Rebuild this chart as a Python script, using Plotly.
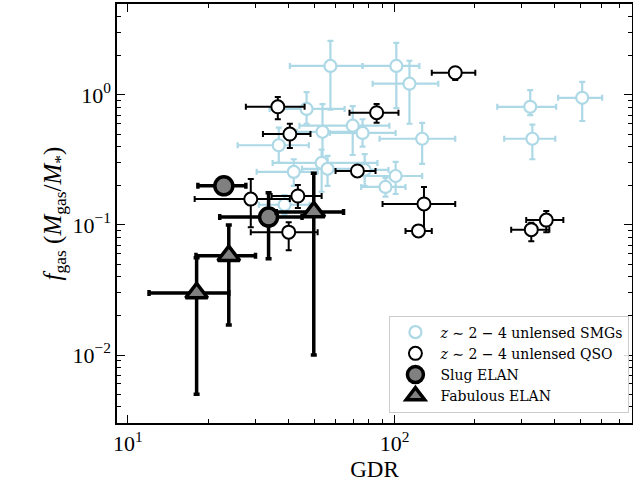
import numpy as np
import plotly.graph_objects as go

# --- SMGs (z~2-4 unlensed) ---
smg_x   = [57.5, 101.6, 113.8, 323, 506, 329, 127, 75.9, 69.7, 53.7, 46.8, 36.8, 53.3, 41.9, 56.1, 77.3, 101, 92.5, 38.7]
smg_xlo = [40.5, 75.9, 82.8, 243, 411, 258, 87.9, 57.2, 44.0, 43.0, 34.0, 25.8, 34.9, 30.4, 45.0, 55.0, 77.3, 75.0, 31.0]
smg_xhi = [75.9, 124, 146, 404, 601, 401, 169, 101, 95.7, 70.0, 65.0, 47.7, 86.3, 51.5, 75.0, 95.0, 127, 110, 48.0]
smg_y   = [1.67, 1.67, 1.22, 0.81, 0.95, 0.46, 0.46, 0.51, 0.58, 0.52, 0.78, 0.41, 0.30, 0.256, 0.27, 0.265, 0.238, 0.196, 0.143]
smg_ylo = [0.77, 0.79, 0.60, 0.70, 0.63, 0.32, 0.295, 0.40, 0.345, 0.30, 0.60, 0.30, 0.18, 0.20, 0.20, 0.20, 0.173, 0.165, 0.12]
smg_yhi = [2.60, 2.51, 1.83, 1.09, 1.26, 0.59, 0.61, 0.65, 0.82, 0.85, 1.05, 0.56, 0.38, 0.32, 0.34, 0.35, 0.305, 0.23, 0.17]

# --- QSOs (z~2-4 unlensed) ---
qso_x   = [36.5, 40.5, 85.7, 169, 72.6, 28.9, 43.4, 40.1, 129, 123, 371, 326]
qso_xlo = [27.7, 32.1, 67.8, 138, 60.1, 17.8, 34.6, 28.9, 90.2, 110, 312, 274]
qso_xhi = [46.0, 48.4, 103.5, 201, 84.9, 40.5, 53.3, 51.5, 169, 138, 430, 381]
qso_y   = [0.81, 0.50, 0.73, 1.48, 0.26, 0.158, 0.167, 0.088, 0.145, 0.090, 0.109, 0.092]
qso_ylo = [0.65, 0.39, 0.61, 1.30, 0.24, 0.096, 0.135, 0.064, 0.090, 0.082, 0.088, 0.075]
qso_yhi = [0.965, 0.60, 0.85, 1.64, 0.28, 0.226, 0.203, 0.105, 0.196, 0.099, 0.128, 0.104]

# --- Slug ELAN ---
slug_x   = [22.9, 33.7]
slug_xlo = [18.3, 22.1]
slug_xhi = [27.7, 45.0]
slug_y   = [0.20, 0.115]
slug_ylo = [0.19, 0.055]
slug_yhi = [0.21, 0.177]

# --- Fabulous ELAN ---
fab_x   = [18.1, 23.9, 49.8]
fab_xlo = [12.0, 18.0, 36.0]
fab_xhi = [23.9, 30.1, 64.4]
fab_y   = [0.030, 0.058, 0.126]
fab_ylo = [0.005, 0.017, 0.010]
fab_yhi = [0.056, 0.100, 0.250]

xticks = [10, 100]
xticktext = ["10<sup>1</sup>", "10<sup>2</sup>"]
yticks = [0.01, 0.1, 1]
yticktext = ["10<sup>−2</sup>", "10<sup>−1</sup>", "10<sup>0</sup>"]
xminor = [m * d for d in (1, 10, 100) for m in range(2, 10)]
yminor = [m * d for d in (0.001, 0.01, 0.1, 1) for m in range(2, 10)]

XR = [np.log10(9.1), np.log10(778)]
YR = [np.log10(0.003), np.log10(5.0)]

FONT = "Liberation Serif"
LFONT = "DejaVu Serif"


def errs(v, lo, hi):
    v, lo, hi = map(np.asarray, (v, lo, hi))
    return (hi - v).tolist(), (v - lo).tolist()


def add(name, x, xlo, xhi, y, ylo, yhi, color, fill, symbol, size, lw, ethick, ewidth):
    exp, exm = errs(x, xlo, xhi)
    eyp, eym = errs(y, ylo, yhi)
    fig.add_trace(go.Scatter(
        x=x, y=y, mode="markers", name=name,
        marker=dict(symbol=symbol, size=size, color=fill, line=dict(color=color, width=lw)),
        error_x=dict(type="data", symmetric=False, array=exp, arrayminus=exm,
                     color=color, thickness=ethick, width=ewidth),
        error_y=dict(type="data", symmetric=False, array=eyp, arrayminus=eym,
                     color=color, thickness=ethick, width=ewidth),
    ))


fig = go.Figure()
add("<i>z</i> ∼ 2 − 4 unlensed SMGs", smg_x, smg_xlo, smg_xhi, smg_y, smg_ylo, smg_yhi,
    "#add8e6", "white", "circle", 12, 2.2, 2.2, 3)
add("<i>z</i> ∼ 2 − 4 unlensed QSO", qso_x, qso_xlo, qso_xhi, qso_y, qso_ylo, qso_yhi,
    "black", "white", "circle", 13, 2, 2, 3)
add("Slug ELAN", slug_x, slug_xlo, slug_xhi, slug_y, slug_ylo, slug_yhi,
    "black", "#808080", "circle", 18, 3.5, 3.5, 3)
add("Fabulous ELAN", fab_x, fab_xlo, fab_xhi, fab_y, fab_ylo, fab_yhi,
    "black", "#808080", "triangle-up", 19, 3.5, 3.5, 3)

# invisible trace to carry the minor-tick overlay axes
fig.add_trace(go.Scatter(x=fab_x, y=fab_y, xaxis="x2", yaxis="y2", mode="markers",
                         marker=dict(opacity=0), showlegend=False, hoverinfo="skip"))

axis_common = dict(
    type="log", showgrid=False, zeroline=False, automargin=False,
    showline=True, linecolor="black", linewidth=1.5, mirror="allticks",
    ticks="inside", ticklen=8, tickwidth=1.2, tickcolor="black",
    tickfont=dict(family=FONT, size=22, color="black"),
)

fig.update_layout(
    xaxis=dict(**axis_common, range=XR, tickvals=xticks, ticktext=xticktext,
               title=dict(text="GDR", font=dict(family=FONT, size=23, color="black"), standoff=6)),
    yaxis=dict(**axis_common, range=YR, tickvals=yticks, ticktext=yticktext,
               title=dict(text="<i>f</i><sub>gas</sub> (<i>M</i><sub>gas</sub>/<i>M</i><sub>*</sub>)",
                          font=dict(family=FONT, size=25, color="black"), standoff=4)),
    xaxis2=dict(type="log", overlaying="x", range=XR, tickvals=xminor, showticklabels=False,
                ticks="inside", ticklen=4, tickwidth=1, tickcolor="black", mirror="allticks",
                showline=False, showgrid=False, zeroline=False, automargin=False, side="bottom"),
    yaxis2=dict(type="log", overlaying="y", range=YR, tickvals=yminor, showticklabels=False,
                ticks="inside", ticklen=4, tickwidth=1, tickcolor="black", mirror="allticks",
                showline=False, showgrid=False, zeroline=False, automargin=False, side="left"),
    width=633, height=492,
    margin=dict(l=117, r=1, t=4, b=69),
    paper_bgcolor="white", plot_bgcolor="white",
    font=dict(family=FONT, color="black"),
    showlegend=True,
    legend=dict(x=0.995, y=0.025, xanchor="right", yanchor="bottom",
                bgcolor="rgba(255,255,255,0.85)", bordercolor="#cccccc", borderwidth=1,
                font=dict(family=LFONT, size=14, color="black"),
                itemsizing="trace", itemwidth=40, tracegroupgap=0),
)

fig.write_html("out.html", config={"displayModeBar": False},
               post_script="document.body.style.margin='0';document.body.style.padding='0';")
